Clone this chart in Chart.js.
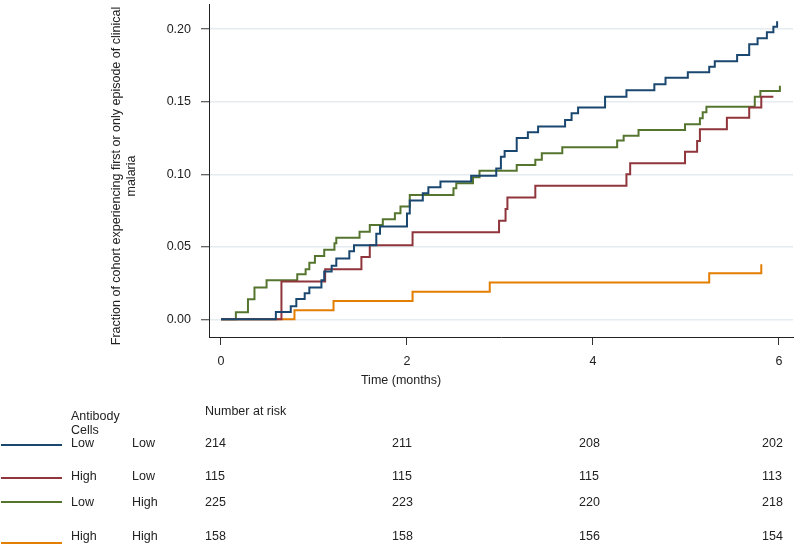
<!DOCTYPE html>
<html>
<head>
<meta charset="utf-8">
<script src="https://cdn.jsdelivr.net/npm/chart.js@4.4.1/dist/chart.umd.min.js"></script>
<style>
  body { margin: 0; background: #fff; }
  #wrap { width: 797px; height: 548px; }
</style>
</head>
<body>
<div id="wrap"><canvas id="kmChart" width="797" height="548"></canvas></div>
<script>
// step points (time in months, cumulative fraction)
var lowLowTimes = [0, 0.59, 0.75, 0.81, 0.90, 0.95, 1.08, 1.11, 1.19, 1.24, 1.38, 1.43, 1.67, 1.71, 2.00, 2.03, 2.17, 2.23, 2.36, 2.69, 2.96, 3.01, 3.05, 3.18, 3.30, 3.41, 3.70, 3.77, 3.84, 4.13, 4.36, 4.66, 4.78, 5.02, 5.25, 5.31, 5.55, 5.68, 5.77, 5.87, 5.94, 5.98];
var lowLowFrac = [0, 0.005, 0.009, 0.014, 0.018, 0.022, 0.027, 0.033, 0.037, 0.042, 0.047, 0.051, 0.059, 0.064, 0.073, 0.082, 0.087, 0.091, 0.095, 0.099, 0.104, 0.112, 0.116, 0.125, 0.129, 0.133, 0.1375, 0.142, 0.146, 0.1535, 0.158, 0.162, 0.1666, 0.1703, 0.1742, 0.178, 0.1823, 0.1897, 0.1938, 0.198, 0.2018, 0.2055];

var highLowTimes = [0, 0.65, 1.12, 1.51, 1.60, 2.06, 2.99, 3.06, 3.08, 3.38, 4.36, 4.40, 4.99, 5.12, 5.15, 5.44, 5.68, 5.81, 5.94];
var highLowFrac = [0, 0.026, 0.0345, 0.043, 0.051, 0.060, 0.068, 0.076, 0.084, 0.092, 0.100, 0.1076, 0.1156, 0.123, 0.131, 0.1389, 0.146, 0.1535, 0.1535];

var lowHighTimes = [0, 0.16, 0.29, 0.36, 0.49, 0.82, 0.91, 0.95, 1.01, 1.11, 1.22, 1.24, 1.49, 1.60, 1.74, 1.87, 1.93, 2.03, 2.50, 2.53, 2.71, 2.78, 3.18, 3.38, 3.45, 3.67, 4.26, 4.33, 4.49, 4.99, 5.15, 5.18, 5.22, 5.74, 5.80, 6.01];
var lowHighFrac = [0, 0.0048, 0.0138, 0.022, 0.027, 0.031, 0.0345, 0.039, 0.0437, 0.048, 0.0524, 0.0563, 0.0604, 0.065, 0.069, 0.0731, 0.0777, 0.0857, 0.0903, 0.0938, 0.098, 0.1025, 0.1064, 0.110, 0.1145, 0.1186, 0.1232, 0.1266, 0.1306, 0.1345, 0.1386, 0.1428, 0.1466, 0.1535, 0.1574, 0.161];

var highHighTimes = [0, 0.79, 1.21, 2.06, 2.89, 5.25, 5.81];
var highHighFrac = [0, 0.0063, 0.0127, 0.019, 0.0253, 0.0317, 0.038];

// groups and risk table
var antibodyLevel = ["Low", "High", "Low", "High"];
var cellsLevel = ["Low", "Low", "High", "High"];
var riskTimes = [0, 2, 4, 6];
var atRisk = [
    [214, 211, 208, 202],
    [115, 115, 115, 113],
    [225, 223, 220, 218],
    [158, 158, 156, 154]
];

var xTicks = [0, 2, 4, 6];
var yTicks = [0, 0.05, 0.10, 0.15, 0.20];
var yTitle = ['Fraction of cohort experiencing first or only episode of clinical', 'malaria'];

var lineColors = ['#1a476f', '#90353b', '#55752f', '#e37e00'];
var txtColor = '#222';
var fontFam = '"Liberation Sans", Arial, Helvetica, sans-serif';

function toPoints(times, frac) {
    var pts = [];
    for (var i = 0; i < times.length; i++) {
        pts.push({ x: times[i], y: frac[i] });
    }
    return pts;
}

var seriesTimes = [lowLowTimes, highLowTimes, lowHighTimes, highHighTimes];
var seriesFrac = [lowLowFrac, highLowFrac, lowHighFrac, highHighFrac];
var datasets = [];
for (var s = 0; s < 4; s++) {
    datasets.push({
        label: antibodyLevel[s] + ' / ' + cellsLevel[s],
        data: toPoints(seriesTimes[s], seriesFrac[s]),
        borderColor: lineColors[s],
        backgroundColor: lineColors[s],
        borderWidth: 2,
        pointRadius: 0,
        stepped: 'before',
        fill: false
    });
}

// axis titles and number-at-risk table are drawn by hand
var riskTable = {
    id: 'riskTable',
    afterDraw: function (chart) {
        var ctx = chart.ctx;
        ctx.save();
        ctx.fillStyle = txtColor;
        ctx.font = '12.5px ' + fontFam;
        ctx.textBaseline = 'middle';

        ctx.textAlign = 'center';
        ctx.fillText('Time (months)', 401, 381);

        ctx.save();
        ctx.translate(117, 176);
        ctx.rotate(-Math.PI / 2);
        ctx.fillText(yTitle[0], 0, 0);
        ctx.fillText(yTitle[1], 0, 14.4);
        ctx.restore();

        ctx.textAlign = 'left';
        ctx.fillText('Antibody', 71, 417);
        ctx.fillText('Cells', 71, 431);
        ctx.fillText('Number at risk', 205, 412);

        var rowY = [444, 477, 503, 537];
        var lineY = [445, 478, 502, 543];
        var colX = [205, 392, 579, 762];
        for (var r = 0; r < atRisk.length; r++) {
            ctx.strokeStyle = lineColors[r];
            ctx.lineWidth = 2;
            ctx.beginPath();
            ctx.moveTo(1, lineY[r]);
            ctx.lineTo(62, lineY[r]);
            ctx.stroke();

            ctx.fillText(antibodyLevel[r], 71, rowY[r]);
            ctx.fillText(cellsLevel[r], 132, rowY[r]);
            for (var c = 0; c < riskTimes.length; c++) {
                ctx.fillText(String(atRisk[r][c]), colX[c], rowY[r]);
            }
        }
        ctx.restore();
    }
};

Chart.defaults.font.family = fontFam;
Chart.defaults.font.size = 12.5;
Chart.defaults.color = txtColor;

var kmChart = new Chart(document.getElementById('kmChart').getContext('2d'), {
    type: 'line',
    data: { datasets: datasets },
    options: {
        responsive: false,
        animation: false,
        events: [],
        layout: { padding: { left: 0, right: 4, top: 4, bottom: 150 } },
        plugins: {
            legend: { display: false },
            tooltip: { enabled: false }
        },
        scales: {
            x: {
                type: 'linear',
                min: -0.129,
                max: 6.151,
                afterBuildTicks: function (scale) {
                    scale.ticks = xTicks.map(function (v) { return { value: v }; });
                },
                afterFit: function (scale) {
                    scale.height = 61;
                    scale.paddingLeft = 0;
                    scale.paddingRight = 0;
                },
                ticks: {
                    padding: 9,
                    maxRotation: 0,
                    color: txtColor,
                    callback: function (v) { return String(v); }
                },
                grid: {
                    drawOnChartArea: false,
                    drawTicks: true,
                    tickLength: 8,
                    tickColor: '#333',
                    tickWidth: 1
                },
                border: { color: '#222', width: 1 }
            },
            y: {
                type: 'linear',
                min: -0.0122,
                max: 0.2174,
                afterBuildTicks: function (scale) {
                    scale.ticks = yTicks.map(function (v) { return { value: v }; });
                },
                afterFit: function (scale) {
                    scale.width = 209;
                    scale.paddingTop = 0;
                    scale.paddingBottom = 0;
                },
                ticks: {
                    padding: 10,
                    color: txtColor,
                    callback: function (v) { return Number(v).toFixed(2); }
                },
                grid: {
                    color: '#e4ecf0',
                    lineWidth: 1.5,
                    drawTicks: true,
                    tickLength: 8,
                    tickColor: '#333',
                    tickWidth: 1
                },
                border: { color: '#222', width: 1 }
            }
        }
    },
    plugins: [riskTable]
});
</script>
</body>
</html>
